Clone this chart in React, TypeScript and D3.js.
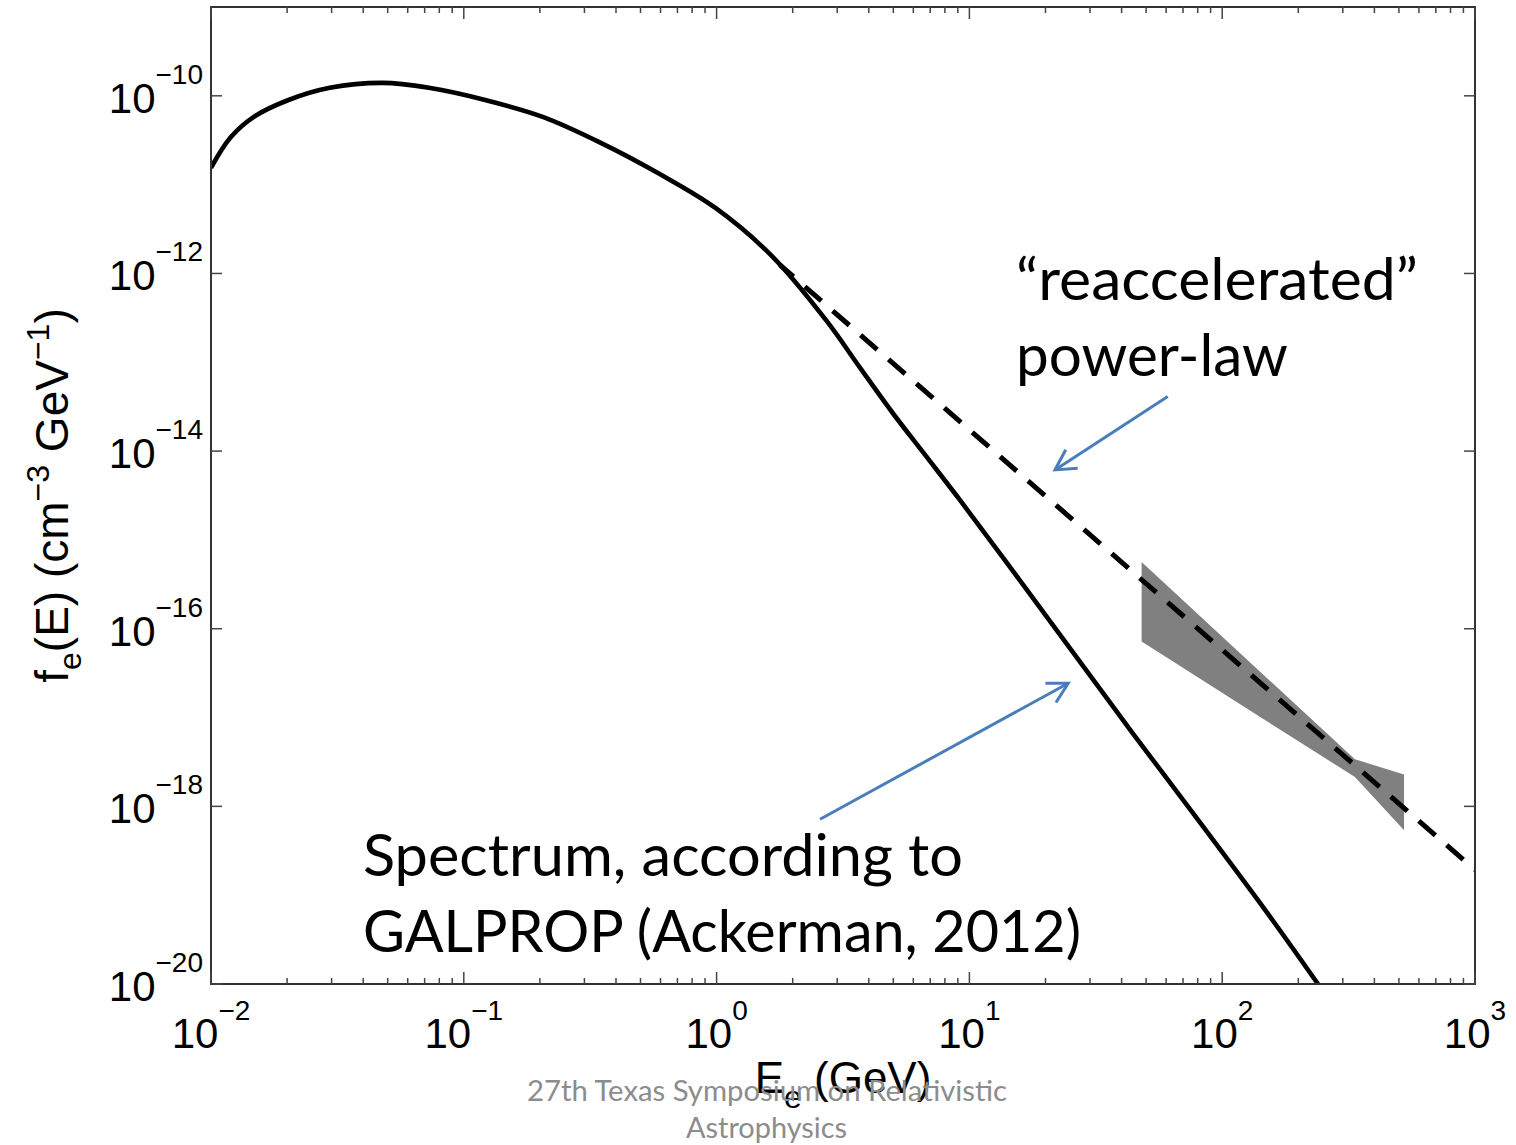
import React from 'react';
import * as d3 from 'd3';

// GALPROP spectrum (energy in GeV, f_e in cm^-3 GeV^-1)
const solidEnergy = [0.01, 0.01194, 0.01472, 0.02014, 0.02951, 0.04786, 0.07278, 0.1225, 0.2065, 0.3483, 0.5861, 0.9863, 1.663, 2.729, 3.69, 4.989, 6.776, 9.183, 13.58, 24.27, 44.36, 81.66, 150, 239.3];
const solidFlux = [1.549e-11, 3.388e-11, 5.754e-11, 8.913e-11, 1.23e-10, 1.4e-10, 1.23e-10, 8.913e-11, 5.754e-11, 2.951e-11, 1.349e-11, 5.495e-12, 1.549e-12, 2.9e-13, 8.7e-14, 2.65e-14, 8.6e-15, 2.8e-15, 6.31e-16, 6.761e-17, 6.607e-18, 6.607e-19, 6.457e-20, 1e-20];

// "reaccelerated" power-law
const dashEnergy = [1.78, 1000];
const dashFlux = [1.25e-12, 1.928e-19];

// grey uncertainty band
const bandEnergy = [48, 335, 524];
const bandUpper = [5.623e-16, 3.388e-18, 2.291e-18];
const bandLower = [7.161e-17, 2.138e-18, 5.37e-19];

const xTickExponents = [-2, -1, 0, 1, 2, 3];
const yTickExponents = [-20, -18, -16, -14, -12, -10];

// annotation arrows in data space: [tailE, tailF, tipE, tipF]
const arrowPowerLaw = [60.9, 4.111e-14, 21.8, 6.138e-15];
const arrowSpectrum = [2.565, 7.161e-19, 24.6, 2.432e-17];

const AXIS_FONT = '"Liberation Sans", Arial, Helvetica, sans-serif';
const NOTE_FONT = 'Lato, "Open Sans", sans-serif';
const BLUE = '#4a7ebb';

export default function App() {
  const W = 1516, H = 1145;
  const L = 211, R = 1475, T = 7, B = 984;
  const x = d3.scaleLog().domain([1e-2, 1e3]).range([L, R]);
  const y = d3.scaleLog().domain([1e-20, 1e-9]).range([B, T]);

  const solidPts = solidEnergy.map((e, i) => [e, solidFlux[i]] as [number, number]);
  const dashPts = dashEnergy.map((e, i) => [e, dashFlux[i]] as [number, number]);
  const line = d3.line<[number, number]>().x(d => x(d[0])).y(d => y(d[1])).curve(d3.curveCatmullRom.alpha(0.5));
  const straight = d3.line<[number, number]>().x(d => x(d[0])).y(d => y(d[1]));
  const area = d3.area<number>()
    .x((_, i) => x(bandEnergy[i]))
    .y0((_, i) => y(bandLower[i]))
    .y1((_, i) => y(bandUpper[i]));

  const majorX = xTickExponents.map(p => Math.pow(10, p));
  const minorX: number[] = [];
  for (let p = -2; p < 3; p++) for (let k = 2; k <= 9; k++) minorX.push(k * Math.pow(10, p));
  const majorY = yTickExponents.map(p => Math.pow(10, p));

  const frameColor = '#333';
  const tickColor = '#444';

  const arrow = (a: number[], key: string) => (
    <line key={key} x1={x(a[0])} y1={y(a[1])} x2={x(a[2])} y2={y(a[3])}
      stroke={BLUE} strokeWidth={3} markerEnd="url(#ah)" />
  );

  return (
    <svg width={W} height={H} style={{ position: 'absolute', left: 0, top: 0, display: 'block', background: '#fff' }}>
      <defs>
        <clipPath id="plot"><rect x={L} y={T} width={R - L} height={B - T} /></clipPath>
        <marker id="ah" markerUnits="userSpaceOnUse" viewBox="-26 -16 30 32" refX={0} refY={0}
          markerWidth={30} markerHeight={32} orient="auto">
          <path d="M-20,-11 L0,0 L-20,11" fill="none" stroke={BLUE} strokeWidth={3} strokeLinejoin="miter" />
        </marker>
      </defs>
      <rect x={0} y={0} width={W} height={H} fill="#fff" />

      {/* data */}
      <g clipPath="url(#plot)">
        <path d={area(bandEnergy) || ''} fill="#808080" stroke="none" />
        <path d={line(solidPts) || ''} fill="none" stroke="#000" strokeWidth={4.6} strokeLinejoin="round" />
        <path d={straight(dashPts) || ''} fill="none" stroke="#000" strokeWidth={5} strokeDasharray="22,15" strokeDashoffset={4} />
      </g>

      {/* frame */}
      <rect x={L} y={T} width={R - L} height={B - T} fill="none" stroke={frameColor} strokeWidth={2} />

      {/* x ticks */}
      {minorX.map((v, i) => (
        <g key={'mx' + i}>
          <line x1={x(v)} x2={x(v)} y1={B} y2={B - 6} stroke={tickColor} strokeWidth={1.5} />
          <line x1={x(v)} x2={x(v)} y1={T} y2={T + 6} stroke={tickColor} strokeWidth={1.5} />
        </g>
      ))}
      {majorX.map((v, i) => (
        <g key={'Mx' + i}>
          <line x1={x(v)} x2={x(v)} y1={B} y2={B - 12} stroke={tickColor} strokeWidth={1.5} />
          <line x1={x(v)} x2={x(v)} y1={T} y2={T + 12} stroke={tickColor} strokeWidth={1.5} />
          <text x={x(v)} y={1048} textAnchor="middle" fontFamily={AXIS_FONT} fontSize={42} fill="#000">
            10<tspan dy={-28} fontSize={28}>{xTickExponents[i] < 0 ? '\u2212' + Math.abs(xTickExponents[i]) : String(xTickExponents[i])}</tspan>
          </text>
        </g>
      ))}

      {/* y ticks */}
      {majorY.map((v, i) => (
        <g key={'My' + i}>
          <line x1={L} x2={L + 11} y1={y(v)} y2={y(v)} stroke={tickColor} strokeWidth={1.5} />
          <line x1={R} x2={R - 11} y1={y(v)} y2={y(v)} stroke={tickColor} strokeWidth={1.5} />
          <text x={203} y={y(v) + 17} textAnchor="end" fontFamily={AXIS_FONT} fontSize={42} fill="#000">
            10<tspan dy={-29} fontSize={28}>{'\u2212' + Math.abs(yTickExponents[i])}</tspan>
          </text>
        </g>
      ))}

      {/* axis titles */}
      <text x={(L + R) / 2} y={1093} textAnchor="middle" fontFamily={AXIS_FONT} fontSize={44} fill="#000">
        E<tspan dy={15} fontSize={32}>e</tspan><tspan dy={-15}> (GeV)</tspan>
      </text>
      <text transform={`translate(68, ${(T + B) / 2}) rotate(-90)`} textAnchor="middle" fontFamily={AXIS_FONT} fontSize={46} fill="#000">
        f<tspan dy={13} fontSize={32}>e</tspan><tspan dy={-13}>(E) (cm</tspan><tspan dy={-19} fontSize={32}>{'\u22123'}</tspan><tspan dy={19}> GeV</tspan><tspan dy={-19} fontSize={32}>{'\u22121'}</tspan><tspan dy={19}>)</tspan>
      </text>

      {/* annotations */}
      {arrow(arrowPowerLaw, 'a1')}
      {arrow(arrowSpectrum, 'a2')}
      <text x={1016} y={300} fontFamily={NOTE_FONT} fontSize={58} fill="#000" textLength={402} lengthAdjust="spacingAndGlyphs">{'\u201Creaccelerated\u201D'}</text>
      <text x={1016} y={376} fontFamily={NOTE_FONT} fontSize={58} fill="#000" textLength={272} lengthAdjust="spacingAndGlyphs">power-law</text>
      <text x={363} y={876} fontFamily={NOTE_FONT} fontSize={58} fill="#000" textLength={600} lengthAdjust="spacingAndGlyphs">Spectrum, according to</text>
      <text x={363} y={952} fontFamily={NOTE_FONT} fontSize={58} fill="#000" textLength={718} lengthAdjust="spacingAndGlyphs">GALPROP (Ackerman, 2012)</text>

      {/* footer */}
      <text x={527} y={1101} fontFamily={NOTE_FONT} fontSize={28} fill="#8c8c8c" textLength={480} lengthAdjust="spacingAndGlyphs">27th Texas Symposium on Relativistic</text>
      <text x={686} y={1138} fontFamily={NOTE_FONT} fontSize={28} fill="#8c8c8c" textLength={161} lengthAdjust="spacingAndGlyphs">Astrophysics</text>
    </svg>
  );
}
